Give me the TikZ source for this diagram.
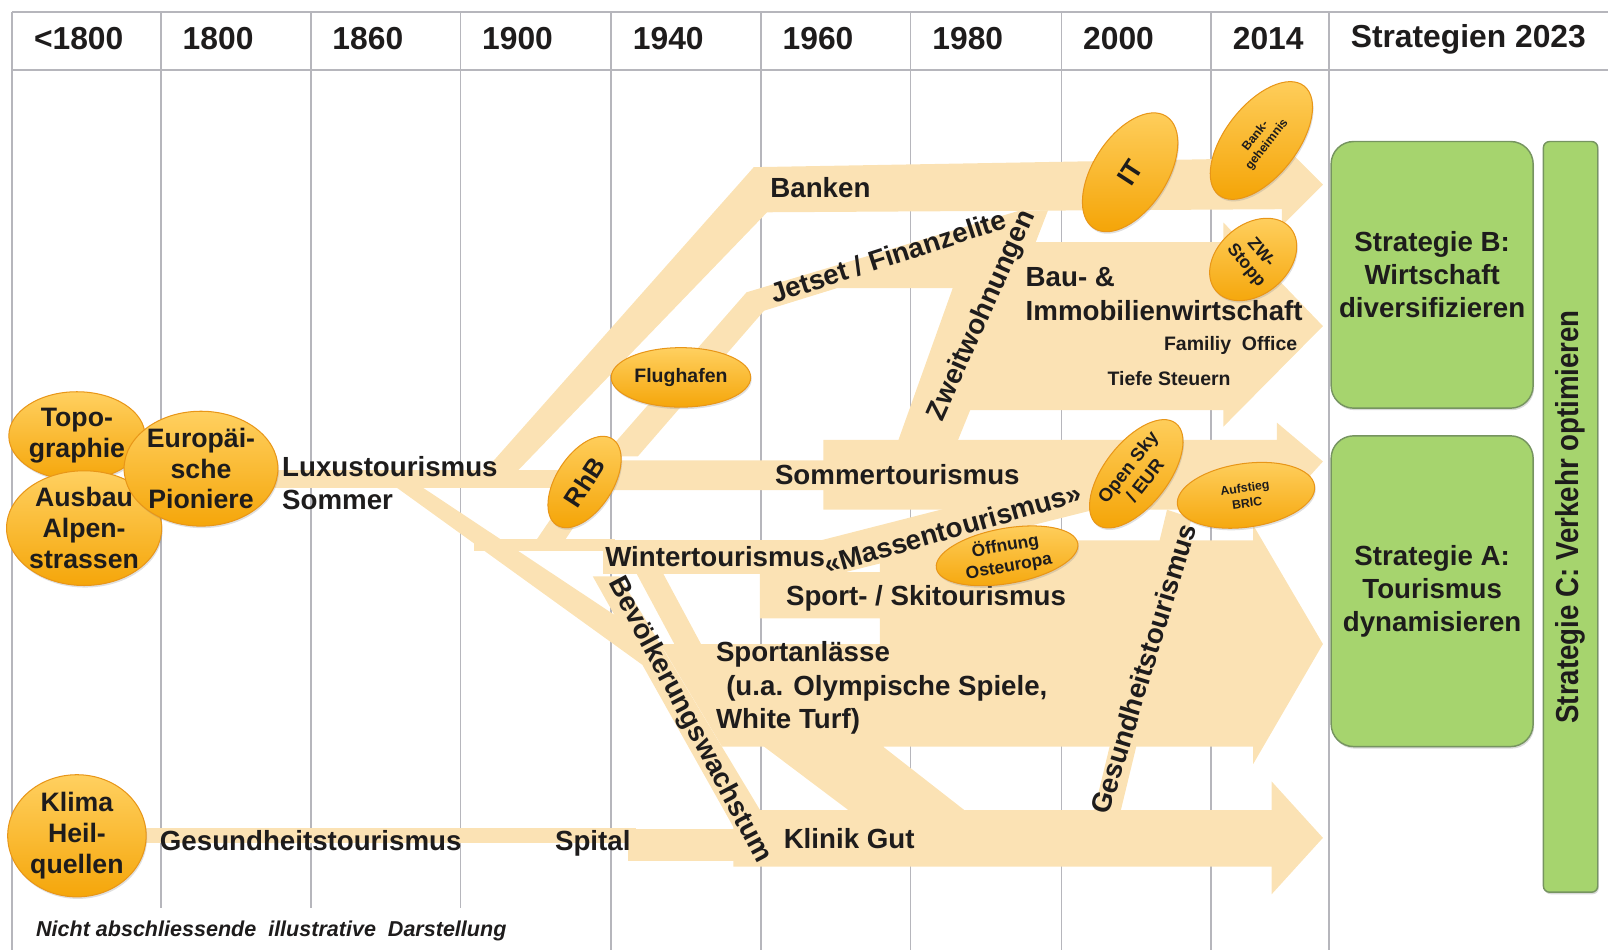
\documentclass[tikz,border=0pt]{standalone}
\usepackage{fontspec}
\usepackage{graphicx}
\setmainfont{Liberation Sans}
\usetikzlibrary{shapes.geometric,shadows}

\definecolor{flowc}{RGB}{251,226,180}
\definecolor{gridc}{RGB}{182,182,188}
\definecolor{inkc}{RGB}{30,28,28}
\definecolor{bubtop}{RGB}{255,208,96}
\definecolor{bubbot}{RGB}{245,166,10}
\definecolor{bubrim}{RGB}{232,150,24}
\definecolor{stratc}{RGB}{166,212,110}
\definecolor{stratrim}{RGB}{118,148,96}

\newcommand{\fsz}[2]{\fontsize{#1}{#2}\selectfont}

\begin{document}
\begin{tikzpicture}[x=1pt,y=-1pt,
    flow/.style={fill=flowc},
    gridline/.style={draw=gridc, line width=1.6pt},
    hdr/.style={font=\bfseries\fsz{31}{31}, text=inkc, inner sep=0pt, anchor=west},
    lbl/.style={font=\bfseries\fsz{27}{33}, text=inkc, inner sep=0pt},
    bubble/.style={ellipse, draw=bubrim, line width=1pt, top color=bubtop, bottom color=bubbot,
      inner sep=0pt, align=center, text=inkc, font=\bfseries\fsz{26}{30},
      drop shadow={opacity=0.25, shadow xshift=1pt, shadow yshift=-2pt}},
    strat/.style={draw=stratrim, line width=1.4pt, fill=stratc, rounded corners=22pt,
      align=center, text=inkc, font=\bfseries\fsz{27}{32},
      drop shadow={opacity=0.3, shadow xshift=1pt, shadow yshift=-2pt}}]
  \useasboundingbox (0,0) rectangle (1568,926);

  % raster
  \draw[gridline] (12,12) -- (1568,12);
  \draw[gridline] (12,68) -- (1568,68);
  \draw[gridline] (12,12) -- (12,926);
  \foreach \gx in {157,303,449}
    \draw[gridline] (\gx,12) -- (\gx,885);
  \foreach \gx in {596,742,888,1035,1181,1296}
    \draw[gridline] (\gx,12) -- (\gx,926);
  \foreach \gx/\yr in {12/{<1800},157/1800,303/1860,449/1900,596/1940,742/1960,888/1980,1035/2000,1181/2014,1296/{Strategien 2023}}
    \node[hdr] (h\gx) at (\gx+21,38) {\yr};

  % stroeme
  \fill[flow] (265,458) rectangle (578,476);
  \fill[flow] (470,462) -- (735,163) -- (1250,154) -- (1250,140) -- (1290,180) -- (1250,220)
    -- (1250,204) -- (748,207) -- (502,462) -- cycle;
  \fill[flow] (588,445) -- (728,285) -- (992,206) -- (1022,205) -- (1010,236) -- (1193,236)
    -- (1193,217) -- (1290,318) -- (1193,416) -- (1193,400) -- (946,400) -- (933,432)
    -- (875,432) -- (929,281) -- (816,281) -- (745,303) -- (622,445) -- cycle;
  \fill[flow] (595,449) -- (803,449) -- (803,429) -- (1245,429) -- (1245,412) -- (1290,450)
    -- (1245,500) -- (1245,497) -- (803,497) -- (803,478) -- (595,478) -- cycle;
  \fill[flow] (518,534) -- (575,450) -- (602,450) -- (546,534) -- cycle;
  \fill[flow] (462,526) rectangle (600,537);
  \fill[flow] (588,527) rectangle (820,560);
  \fill[flow] (800,527) -- (1062,460) -- (1075,495) -- (812,561) -- cycle;
  \fill[flow] (382,472) -- (404,470) -- (648,632) -- (626,648) -- cycle;
  \fill[flow] (578,562) -- (604,562) -- (752,808) -- (716,808) -- cycle;
  \fill[flow] (620,558) -- (646,558) -- (690,640) -- (664,640) -- cycle;
  \fill[flow] (741,558) -- (858,558) -- (858,527) -- (1222,527) -- (1222,512) -- (1290,628)
    -- (1222,745) -- (1222,728) -- (861,728) -- (943,792) -- (830,792) -- (745,728)
    -- (704,728) -- (644,628) -- (858,628) -- (858,603) -- (741,603) -- cycle;
  \fill[flow] (140,807) rectangle (620,822);
  \fill[flow] (612,808) rectangle (720,840);
  \fill[flow] (715,790) -- (1240,790) -- (1240,762) -- (1290,817) -- (1240,872) -- (1240,845)
    -- (715,845) -- cycle;
  \fill[flow] (1066,794) -- (1138,497) -- (1162,505) -- (1092,794) -- cycle;

  % beschriftung
  \node[lbl, anchor=west] (luxus) at (275,455) {Luxustourismus};
  \node[lbl, anchor=west] (sommer) at (275,488) {Sommer};
  \node[lbl] (banken) at (800,183) {Banken};
  \node[lbl, rotate=18] (jetset) at (866,250) {Jetset / Finanzelite};
  \node[lbl, rotate=66] (zweit) at (958,308) {Zweitwohnungen};
  \node[lbl, anchor=west, align=left] (bau) at (1000,287) {Bau- \&\\Immobilienwirtschaft};
  \node[lbl, font=\bfseries\fsz{19}{19}] (family) at (1200,337) {Familiy\ \ Office};
  \node[lbl, font=\bfseries\fsz{19}{19}] (steuern) at (1140,369) {Tiefe Steuern};
  \node[lbl] (sommertour) at (875,463) {Sommertourismus};
  \node[lbl, anchor=west] (winter) at (590,543) {Wintertourismus};
  \node[lbl, rotate=16] (massen) at (929,515) {«Massentourismus»};
  \node[lbl] (ski) at (903,583) {Sport- / Skitourismus};
  \node[lbl, anchor=north west, align=left] (anlass) at (698,625)
    {Sportanlässe\\\hspace*{10pt}(u.a. Olympische Spiele,\\White Turf)};
  \node[lbl, rotate=-62] (bevoelk) at (672,702) {Bevölkerungswachstum};
  \node[lbl] (klinik) at (828,818) {Klinik Gut};
  \node[lbl] (spital) at (578,822) {Spital};
  \node[lbl] (gesund) at (303,820) {Gesundheitstourismus};
  \node[lbl, rotate=73] (gesundv) at (1115,652) {Gesundheitstourismus};
  \node[lbl, anchor=west, font=\bfseries\itshape\fsz{21}{21}] (note) at (35,908)
    {Nicht abschliessende\ \ illustrative\ \ Darstellung};

  % treiber
  \node[bubble, minimum width=130pt, minimum height=86pt] (topo) at (75,425) {Topo-\\graphie};
  \node[bubble, minimum width=145pt, minimum height=100pt] (ausbau) at (82,515) {Ausbau\\Alpen-\\strassen};
  \node[bubble, minimum width=150pt, minimum height=112pt] (pioniere) at (196,457) {Europäi-\\sche\\Pioniere};
  \node[bubble, minimum width=135pt, minimum height=92pt] (klima) at (75,815) {Klima\\Heil-\\quellen};
  \node[bubble, minimum width=136pt, minimum height=58pt, font=\bfseries\fsz{19}{19}] (flughafen) at (664,368) {Flughafen};
  \node[bubble, rotate=57, minimum width=100pt, minimum height=55pt, font=\bfseries\fsz{25}{25}] (rhb) at (570,470) {RhB};
  \node[bubble, rotate=57, minimum width=130pt, minimum height=72pt] (it) at (1102,168) {IT};
  \node[bubble, rotate=52, minimum width=135pt, minimum height=70pt, font=\bfseries\fsz{12}{14}] (bank) at (1230,137) {Bank-\\geheimnis};
  \node[bubble, rotate=-50, minimum width=62pt, minimum height=95pt, font=\bfseries\fsz{17}{19}] (zw) at (1222,253) {ZW-\\Stopp};
  \node[bubble, rotate=52, minimum width=125pt, minimum height=62pt, font=\bfseries\fsz{18}{21}] (opensky) at (1108,462) {Open Sky\\/ EUR};
  \node[bubble, rotate=8, minimum width=135pt, minimum height=62pt, font=\bfseries\fsz{12}{15}] (bric) at (1215,483) {Aufstieg\\BRIC};
  \node[bubble, rotate=10, minimum width=140pt, minimum height=50pt, font=\bfseries\fsz{17}{20}] (osten) at (982,542) {Öffnung\\Osteuropa};

  % strategien
  \node[strat, minimum width=197pt, minimum height=260pt] (stratB) at (1396.5,268)
    {Strategie B:\\Wirtschaft\\diversifizieren};
  \node[strat, minimum width=197pt, minimum height=303pt] (stratA) at (1396.5,576.5)
    {Strategie A:\\Tourismus\\dynamisieren};
  \node[strat, rounded corners=6pt, minimum width=53pt, minimum height=732pt] (stratC) at (1531.5,504) {};
  \node[lbl, rotate=90] (stratCtext) at (stratC) {\scalebox{0.87}[1]{\fsz{31}{31}Strategie C: Verkehr optimieren}};
\end{tikzpicture}
\end{document}
